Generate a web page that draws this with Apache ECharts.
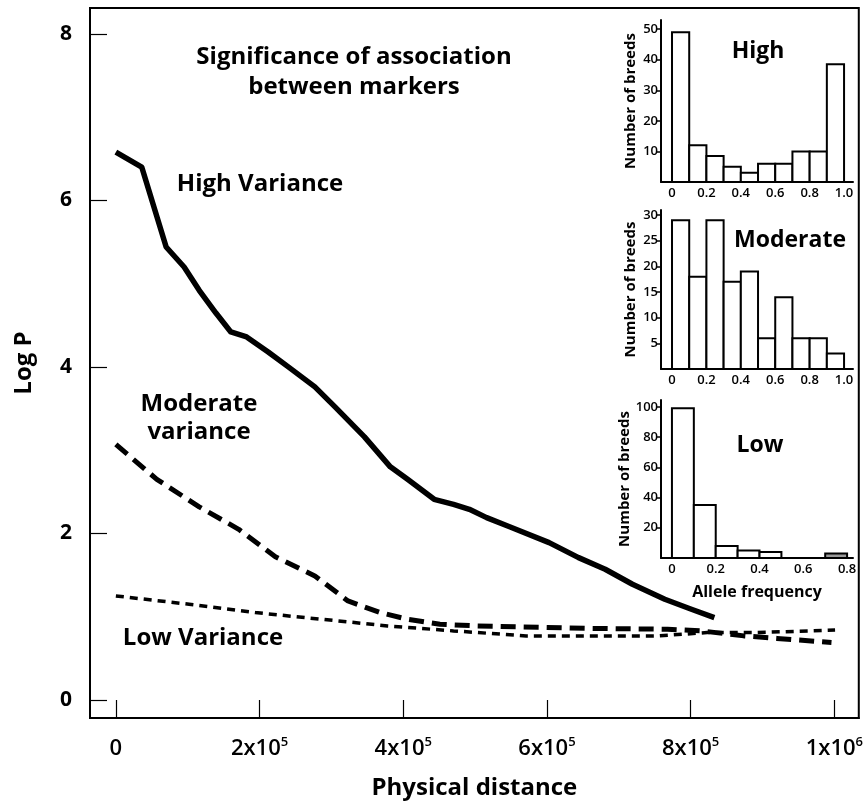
<!DOCTYPE html>
<html lang="en">
<head>
    <meta charset="UTF-8">
    <title>Log P vs physical distance</title>
    <script src="https://cdn.jsdelivr.net/npm/echarts@6.0.0/dist/echarts.min.js"></script>
    <style>
        html, body { margin: 0; padding: 0; background: #fff; }
        #box { width: 866px; height: 805px; }
    </style>
</head>
<body>
<div id="box"></div>
<script>
    // main curves: [physical distance, log P]
    var highVariance = [
        [0, 6.58], [36000, 6.40], [70000, 5.44], [95000, 5.20], [116000, 4.92],
        [139000, 4.65], [160000, 4.42], [182000, 4.36], [212000, 4.18], [240000, 4.00],
        [277000, 3.76], [305000, 3.52], [346000, 3.16], [382000, 2.80], [406000, 2.65],
        [443000, 2.41], [470000, 2.35], [492000, 2.29], [516000, 2.19], [548000, 2.08],
        [603000, 1.89], [644000, 1.71], [681000, 1.57], [719000, 1.39], [764000, 1.21],
        [801000, 1.09], [833000, 0.99]
    ];
    var moderateVariance = [
        [0, 3.07], [57000, 2.65], [116000, 2.32], [171000, 2.05], [222000, 1.72],
        [277000, 1.49], [323000, 1.19], [368000, 1.05], [406000, 0.97], [451000, 0.91],
        [502000, 0.89], [663000, 0.86], [768000, 0.85], [815000, 0.83], [874000, 0.77],
        [920000, 0.74], [996000, 0.69]
    ];
    var lowVariance = [
        [0, 1.25], [102000, 1.15], [194000, 1.05], [286000, 0.97], [378000, 0.89],
        [470000, 0.83], [571000, 0.77], [663000, 0.77], [755000, 0.77], [823000, 0.81],
        [892000, 0.81], [1001000, 0.84]
    ];

    var yTicks = [0, 2, 4, 6, 8];
    var xTicks = [0, 200000, 400000, 600000, 800000, 1000000];
    var xTickBase = ['0', '2x10', '4x10', '6x10', '8x10', '1x10'];
    var xTickExp = ['', '5', '5', '5', '5', '6'];

    // inset histograms (allele frequency bins)
    var binStart = [0, 0.1, 0.2, 0.3, 0.4, 0.5, 0.6, 0.7, 0.8, 0.9];
    var binEnd = [0.1, 0.2, 0.3, 0.4, 0.5, 0.6, 0.7, 0.8, 0.9, 1.0];
    var highCounts = [49, 12, 8.5, 5, 3, 6, 6, 10, 10, 38.5];
    var moderateCounts = [29, 18, 29, 17, 19, 6, 14, 6, 6, 3];
    var lowCounts = [99, 35, 8, 5, 4, 0, 0, 3];
    var lowShaded = [false, false, false, false, false, false, false, true];

    var highYTicks = [10, 20, 30, 40, 50];
    var moderateYTicks = [5, 10, 15, 20, 25, 30];
    var lowYTicks = [20, 40, 60, 80, 100];
    var freqTicks = [0, 0.2, 0.4, 0.6, 0.8, 1.0];
    var freqLabels = ['0', '0.2', '0.4', '0.6', '0.8', '1.0'];
    var lowFreqTicks = [0, 0.2, 0.4, 0.6, 0.8];

    var FONT = "'Open Sans', 'Noto Sans', sans-serif";

    function binData(counts, shaded) {
        var out = [];
        for (var i = 0; i < counts.length; i++) {
            var item = { value: [binStart[i], binEnd[i], counts[i]] };
            if (shaded && shaded[i]) item.itemStyle = { color: '#999' };
            out.push(item);
        }
        return out;
    }

    function renderBin(params, api) {
        if (api.value(2) <= 0) return null;
        var p0 = api.coord([api.value(0), 0]);
        var p1 = api.coord([api.value(1), api.value(2)]);
        return {
            type: 'rect',
            shape: { x: p0[0], y: p1[1], width: p1[0] - p0[0], height: p0[1] - p1[1] },
            style: { fill: api.visual('color'), stroke: '#000', lineWidth: 2 }
        };
    }

    function freqFormatter(v) {
        var i = freqTicks.indexOf(v);
        return i < 0 ? '' : freqLabels[i];
    }

    function insetX(idx, min, max, ticks) {
        return {
            type: 'value', gridIndex: idx, min: min, max: max,
            splitLine: { show: false },
            axisLine: { show: true, onZero: false, lineStyle: { color: '#000', width: 2 } },
            axisTick: { show: false },
            axisLabel: {
                customValues: ticks, margin: 5, color: '#000', fontFamily: FONT,
                fontWeight: 600, fontSize: 13, formatter: freqFormatter
            }
        };
    }

    function insetY(idx, max, ticks) {
        return {
            type: 'value', gridIndex: idx, min: 0, max: max,
            name: 'Number of breeds', nameLocation: 'middle', nameGap: 23,
            nameTextStyle: { color: '#000', fontFamily: FONT, fontWeight: 'bold', fontSize: 15 },
            splitLine: { show: false },
            axisLine: { show: true, onZero: false, lineStyle: { color: '#000', width: 2 } },
            axisTick: { show: true, customValues: ticks, length: 4, lineStyle: { color: '#000', width: 1.5 } },
            axisLabel: {
                customValues: ticks, margin: 3, color: '#000', fontFamily: FONT,
                fontWeight: 600, fontSize: 13
            }
        };
    }

    function note(text, x, y, size) {
        return {
            type: 'text', x: x, y: y, silent: true,
            style: { text: text, textAlign: 'center', textVerticalAlign: 'middle', font: 'bold ' + size + 'px ' + FONT, fill: '#000' }
        };
    }

    var myChart = echarts.init(document.getElementById('box'));

    var option = {
        backgroundColor: '#fff',
        animation: false,
        grid: [
            { left: 90, right: 1, top: 8, bottom: 86, show: true, borderColor: '#000', borderWidth: 2, backgroundColor: 'transparent' },
            { left: 661, right: 13, top: 20, bottom: 623 },
            { left: 661, right: 13, top: 210, bottom: 436 },
            { left: 661, right: 13, top: 400, bottom: 247 }
        ],
        xAxis: [
            {
                type: 'value', gridIndex: 0, min: -36000, max: 1034000,
                name: 'Physical distance', nameLocation: 'middle', nameGap: 58,
                nameTextStyle: { color: '#000', fontFamily: FONT, fontWeight: 'bold', fontSize: 24 },
                splitLine: { show: false },
                axisLine: { show: true, onZero: false, lineStyle: { color: '#000', width: 2 } },
                axisTick: { show: true, inside: true, length: 18, customValues: xTicks, lineStyle: { color: '#000', width: 1.2 } },
                axisLabel: {
                    customValues: xTicks, margin: 18,
                    formatter: function (v) {
                        var i = xTicks.indexOf(v);
                        if (i < 0) return '';
                        return xTickExp[i] ? '{b|' + xTickBase[i] + '}{s|' + xTickExp[i] + '}' : '{b|' + xTickBase[i] + '}';
                    },
                    rich: {
                        b: { color: '#000', fontFamily: FONT, fontWeight: 600, fontSize: 22, lineHeight: 24, verticalAlign: 'bottom' },
                        s: { color: '#000', fontFamily: FONT, fontWeight: 600, fontSize: 13, lineHeight: 14, verticalAlign: 'top' }
                    }
                }
            },
            insetX(1, -0.064, 1.052, freqTicks),
            insetX(2, -0.064, 1.052, freqTicks),
            {
                type: 'value', gridIndex: 3, min: -0.05, max: 0.827,
                name: 'Allele frequency', nameLocation: 'middle', nameGap: 26,
                nameTextStyle: { color: '#000', fontFamily: FONT, fontWeight: 'bold', fontSize: 16 },
                splitLine: { show: false },
                axisLine: { show: true, onZero: false, lineStyle: { color: '#000', width: 2 } },
                axisTick: { show: false },
                axisLabel: {
                    customValues: lowFreqTicks, margin: 5, color: '#000', fontFamily: FONT,
                    fontWeight: 600, fontSize: 13, formatter: freqFormatter
                }
            }
        ],
        yAxis: [
            {
                type: 'value', gridIndex: 0, min: -0.216, max: 8.31,
                name: 'Log P', nameLocation: 'middle', nameGap: 54,
                nameTextStyle: { color: '#000', fontFamily: FONT, fontWeight: 'bold', fontSize: 24 },
                splitLine: { show: false },
                axisLine: { show: true, onZero: false, lineStyle: { color: '#000', width: 2 } },
                axisTick: { show: true, inside: true, length: 17, customValues: yTicks, lineStyle: { color: '#000', width: 1.2 } },
                axisLabel: {
                    customValues: yTicks, margin: 18, color: '#000', fontFamily: FONT,
                    fontWeight: 'bold', fontSize: 21
                }
            },
            insetY(1, 53, highYTicks),
            insetY(2, 31, moderateYTicks),
            insetY(3, 104.5, lowYTicks)
        ],
        graphic: [
            note('Significance of association', 354, 57, 24),
            note('between markers', 354, 87, 24),
            note('High Variance', 260, 184, 24),
            note('Moderate', 199, 404, 24),
            note('variance', 199, 432, 24),
            note('Low Variance', 203, 638, 24),
            note('High', 758, 51, 23),
            note('Moderate', 790, 240, 23),
            note('Low', 760, 445, 23)
        ],
        series: [
            {
                name: 'High', type: 'line', xAxisIndex: 0, yAxisIndex: 0, data: highVariance,
                showSymbol: false, smooth: false, silent: true,
                lineStyle: { color: '#000', width: 5.5, type: 'solid', join: 'round' }
            },
            {
                name: 'Moderate', type: 'line', xAxisIndex: 0, yAxisIndex: 0, data: moderateVariance,
                showSymbol: false, smooth: false, silent: true,
                lineStyle: { color: '#000', width: 5, type: [15, 8], cap: 'butt' }
            },
            {
                name: 'Low', type: 'line', xAxisIndex: 0, yAxisIndex: 0, data: lowVariance,
                showSymbol: false, smooth: false, silent: true,
                lineStyle: { color: '#000', width: 3.5, type: [8, 6], cap: 'butt' }
            },
            {
                type: 'custom', xAxisIndex: 1, yAxisIndex: 1, renderItem: renderBin,
                itemStyle: { color: '#fff' }, encode: { x: [0, 1], y: 2 }, data: binData(highCounts)
            },
            {
                type: 'custom', xAxisIndex: 2, yAxisIndex: 2, renderItem: renderBin,
                itemStyle: { color: '#fff' }, encode: { x: [0, 1], y: 2 }, data: binData(moderateCounts)
            },
            {
                type: 'custom', xAxisIndex: 3, yAxisIndex: 3, renderItem: renderBin,
                itemStyle: { color: '#fff' }, encode: { x: [0, 1], y: 2 }, data: binData(lowCounts, lowShaded)
            }
        ]
    };

    myChart.setOption(option);
</script>
</body>
</html>
